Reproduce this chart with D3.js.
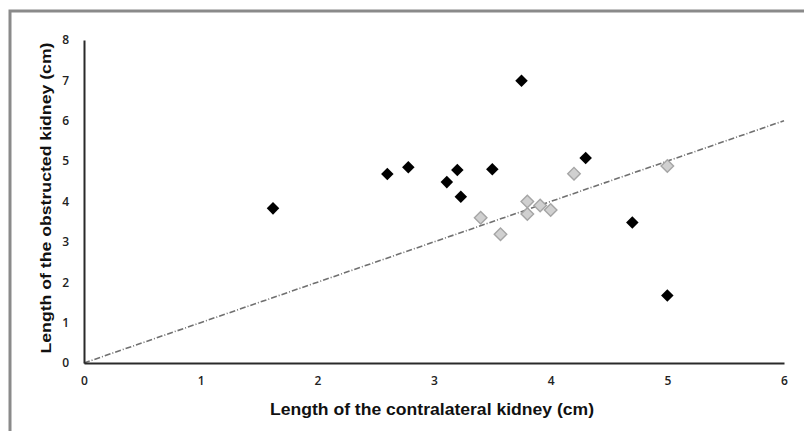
<!DOCTYPE html>
<html>
<head>
<meta charset="utf-8">
<script src="https://cdn.jsdelivr.net/npm/d3@7"></script>
<style>
  body { margin: 0; background: #fff; overflow: hidden; }
  svg { display: block; }
</style>
</head>
<body>
<svg width="804" height="431"></svg>
<script>
// obstructed group (black diamonds)
const blackX = [1.62, 2.60, 2.78, 3.11, 3.20, 3.23, 3.50, 3.75, 4.30, 4.70, 5.00];
const blackY = [3.83, 4.68, 4.85, 4.48, 4.78, 4.12, 4.80, 6.99, 5.08, 3.48, 1.67];
// gray diamonds
const grayX = [3.40, 3.57, 3.80, 3.80, 3.91, 4.00, 4.20, 5.00];
const grayY = [3.60, 3.19, 3.69, 4.00, 3.90, 3.79, 4.69, 4.88];

const xTicks = [0, 1, 2, 3, 4, 5, 6];
const yTicks = [0, 1, 2, 3, 4, 5, 6, 7, 8];
const identityLine = [[0, 0], [6, 6]];

const svg = d3.select('svg');

// outer frame: only top and left edges show
svg.append('path')
  .attr('d', 'M10,431 V11 H804')
  .attr('fill', 'none')
  .attr('stroke', '#8a8a8a')
  .attr('stroke-width', 3);

const x = d3.scaleLinear().domain([0, 6]).range([84, 784]);
const y = d3.scaleLinear().domain([0, 8]).range([363, 40]);

// identity line
svg.append('path')
  .datum(identityLine)
  .attr('d', d3.line().x(d => x(d[0])).y(d => y(d[1])))
  .attr('fill', 'none')
  .attr('stroke', '#707070')
  .attr('stroke-width', 1.6)
  .attr('stroke-dasharray', '6,2,1,2');

// axes
const fmt = d3.format('d');
const xAxis = svg.append('g')
  .attr('transform', 'translate(0,' + y(0) + ')')
  .call(d3.axisBottom(x).tickValues(xTicks).tickFormat(fmt).tickSize(0).tickPadding(13));
const yAxis = svg.append('g')
  .attr('transform', 'translate(' + x(0) + ',0)')
  .call(d3.axisLeft(y).tickValues(yTicks).tickFormat(fmt).tickSize(0).tickPadding(15));

[xAxis, yAxis].forEach(g => {
  g.select('.domain').attr('stroke', '#2a2a2a').attr('stroke-width', 2);
  g.selectAll('text')
    .attr('font-family', '"Open Sans", "Liberation Sans", sans-serif')
    .attr('font-size', 12)
    .attr('font-weight', 600)
    .attr('fill', '#222');
});

// points
const diamond = d3.symbol().type(d3.symbolDiamond2);

svg.append('g').selectAll('path')
  .data(d3.range(grayX.length))
  .enter().append('path')
  .attr('d', diamond.size(100))
  .attr('transform', i => 'translate(' + x(grayX[i]) + ',' + y(grayY[i]) + ')')
  .attr('fill', '#d0d0d0')
  .attr('stroke', '#a5a5a5')
  .attr('stroke-width', 1.4);

svg.append('g').selectAll('path')
  .data(d3.range(blackX.length))
  .enter().append('path')
  .attr('d', diamond.size(100))
  .attr('transform', i => 'translate(' + x(blackX[i]) + ',' + y(blackY[i]) + ')')
  .attr('fill', '#000');

// axis titles
svg.append('text')
  .attr('x', 432).attr('y', 415)
  .attr('text-anchor', 'middle')
  .attr('font-family', '"Liberation Sans", Arial, sans-serif')
  .attr('font-weight', 'bold')
  .attr('font-size', 16)
  .attr('textLength', 324)
  .attr('lengthAdjust', 'spacingAndGlyphs')
  .attr('fill', '#111')
  .text('Length of the contralateral kidney (cm)');

svg.append('text')
  .attr('transform', 'translate(51,198) rotate(-90)')
  .attr('text-anchor', 'middle')
  .attr('font-family', '"Liberation Sans", Arial, sans-serif')
  .attr('font-weight', 'bold')
  .attr('font-size', 15)
  .attr('textLength', 311)
  .attr('lengthAdjust', 'spacingAndGlyphs')
  .attr('fill', '#111')
  .text('Length of the obstructed kidney (cm)');
</script>
</body>
</html>
